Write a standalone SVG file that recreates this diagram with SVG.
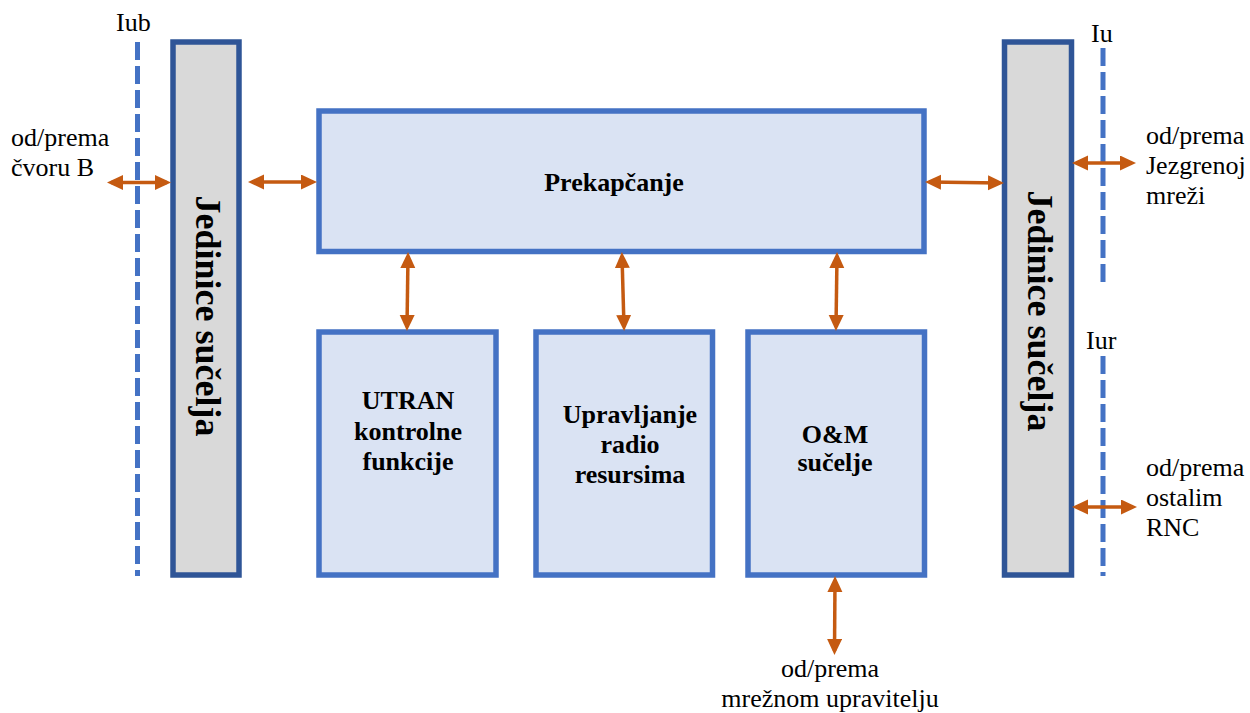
<svg xmlns="http://www.w3.org/2000/svg" width="1250" height="713" viewBox="0 0 1250 713">
<style>
  .unit { fill: #D9D9D9; stroke: #2F5597; stroke-width: 5.5; }
  .box { fill: #DAE3F3; stroke: #4472C4; stroke-width: 5.5; }
  .dash { stroke: #4472C4; stroke-width: 5; stroke-dasharray: 18 6; fill: none; }
  .arr { stroke: #C55A11; stroke-width: 3.5; fill: none; marker-start: url(#ah); marker-end: url(#ah); }
  text { font-family: 'Liberation Serif', Tinos, 'Times New Roman', Times, 'DejaVu Serif', serif; fill: #000; }
  .t { font-size: 26px; }
  .b { font-size: 26px; font-weight: bold; text-anchor: middle; }
  .v { font-size: 36px; font-weight: bold; text-anchor: middle; }
</style>
<defs>
  <marker id="ah" markerUnits="userSpaceOnUse" markerWidth="16" markerHeight="16" viewBox="0 0 16 16" refX="12" refY="7.5" orient="auto-start-reverse">
    <path d="M0,0 L16,7.5 L0,15 z" fill="#C55A11"/>
  </marker>
</defs>
<rect width="1250" height="713" fill="#FFFFFF"/>

<g id="interfaces">
  <line class="dash" x1="137.5" y1="42" x2="137.5" y2="576"/>
  <text class="t" x="116" y="31">Iub</text>
  <line class="dash" x1="1103" y1="48" x2="1103" y2="282"/>
  <text class="t" x="1091" y="42">Iu</text>
  <line class="dash" x1="1103" y1="356" x2="1103" y2="576"/>
  <text class="t" x="1086" y="349">Iur</text>
</g>

<g id="unit-left">
  <rect class="unit" x="173" y="42" width="66" height="533"/>
  <text class="v" transform="translate(206,316) rotate(90)" x="0" y="10">Jedinice sučelja</text>
</g>

<g id="unit-right">
  <rect class="unit" x="1004.5" y="42" width="67" height="533"/>
  <text class="v" transform="translate(1038,311) rotate(90)" x="0" y="10">Jedinice sučelja</text>
</g>

<g id="prekapcanje">
  <rect class="box" x="319" y="111" width="605" height="140.5"/>
  <text class="b" x="614" y="191">Prekapčanje</text>
</g>

<g id="utran">
  <rect class="box" x="319" y="332" width="177" height="243"/>
  <text class="b" x="408" y="409">UTRAN</text>
  <text class="b" x="408" y="440">kontrolne</text>
  <text class="b" x="408" y="470">funkcije</text>
</g>

<g id="rrm">
  <rect class="box" x="536" y="332" width="176.5" height="243"/>
  <text class="b" x="630" y="423">Upravljanje</text>
  <text class="b" x="630" y="453">radio</text>
  <text class="b" x="630" y="483">resursima</text>
</g>

<g id="om">
  <rect class="box" x="748" y="332" width="176.5" height="243"/>
  <text class="b" x="835" y="443">O&amp;M</text>
  <text class="b" x="835" y="471">sučelje</text>
</g>

<g id="labels">
  <text class="t" x="11" y="146">od/prema</text>
  <text class="t" x="11" y="176">čvoru B</text>
  <text class="t" x="1146" y="144">od/prema</text>
  <text class="t" x="1146" y="174">Jezgrenoj</text>
  <text class="t" x="1146" y="204">mreži</text>
  <text class="t" x="1146" y="476">od/prema</text>
  <text class="t" x="1146" y="506">ostalim</text>
  <text class="t" x="1146" y="536">RNC</text>
  <text class="t" x="830" y="677" text-anchor="middle">od/prema</text>
  <text class="t" x="830" y="707" text-anchor="middle">mrežnom upravitelju</text>
</g>

<g id="connectors">
  <line class="arr" x1="111" y1="182.5" x2="167" y2="182.5"/>
  <line class="arr" x1="252" y1="182" x2="313" y2="182"/>
  <line class="arr" x1="929" y1="182" x2="1000" y2="183"/>
  <line class="arr" x1="1076" y1="163" x2="1132" y2="163"/>
  <line class="arr" x1="1076" y1="507" x2="1133" y2="507"/>
  <line class="arr" x1="408" y1="256" x2="407" y2="327"/>
  <line class="arr" x1="622" y1="256" x2="624" y2="327"/>
  <line class="arr" x1="837" y1="256" x2="836" y2="327"/>
  <line class="arr" x1="835" y1="580" x2="834.5" y2="651"/>
</g>
</svg>
